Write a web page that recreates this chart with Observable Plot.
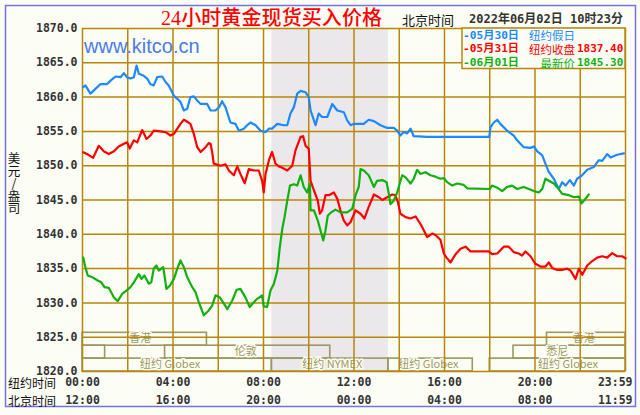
<!DOCTYPE html>
<html><head><meta charset="utf-8">
<script src="https://cdn.jsdelivr.net/npm/d3@7"></script>
<script src="https://cdn.jsdelivr.net/npm/@observablehq/plot@0.6"></script>
<style>
html,body{margin:0;padding:0;background:#fcfdf5;}
#chart{width:640px;height:415px;}
svg{display:block;}
</style></head><body><div id="chart"></div>
<script>
// ---------- data ----------
const yTicks = [1820,1825,1830,1835,1840,1845,1850,1855,1860,1865,1870];
const xGrid = [0,2,4,6,8,10,12,14,16,18,20,22,24];
const xTickHours = [0,4,8,12,16,20,24];
const nyLabels = ["00:00","04:00","08:00","12:00","16:00","20:00","23:59"];
const bjLabels = ["12:00","16:00","20:00","00:00","04:00","08:00","11:59"];

const sessionNames = ["香港","香港","悉尼","悉尼","伦敦","纽约 Globex","纽约 NYMEX","纽约 Globex","纽约 Globex"];
const sessionStart = [0,20.53,0,19.05,3.65,0,8.37,13.52,18.0];
const sessionEnd   = [5.5,24,1.0,24,10.95,8.37,13.52,17.25,24];
const sessionRow   = [1,1,2,2,2,3,3,3,3];
const sessionLabelAt = [2.55,22.15,null,20.98,7.21,3.87,11.04,15.29,21.46];

const seriesNames = ["05月30日","05月31日","06月01日"];
const seriesNotes = ["纽约假日","纽约收盘","最新价"];
const seriesValues = ["","1837.40","1845.30"];

const blueH = [0.03,0.13,0.35,0.57,0.8,1.09,1.24,1.46,1.68,1.83,1.97,2.12,2.27,2.39,2.49,2.71,2.86,3.0,3.15,3.3,3.52,3.67,3.81,4.04,4.19,4.33,4.48,4.63,4.77,4.92,5.07,5.22,5.51,5.66,5.88,6.03,6.17,6.32,6.54,6.76,6.91,7.13,7.28,7.43,7.65,7.87,8.09,8.24,8.38,8.61,8.9,9.05,9.19,9.34,9.49,9.64,9.86,10.0,10.08,10.23,10.3,10.44,10.59,10.82,11.04,11.26,11.55,11.7,11.85,12.0,12.29,12.43,12.65,12.88,13.17,13.47,13.76,13.91,14.05,14.2,14.35,14.5,14.64,15.23,17.98,18.03,18.18,18.33,18.47,18.77,19.06,19.21,19.5,19.8,19.95,20.1,20.32,20.46,20.61,20.83,21.05,21.2,21.35,21.54,21.72,21.86,22.08,22.31,22.6,22.82,22.97,23.19,23.34,23.63,23.93];
const blueP = [1861.45,1861.7,1860.5,1861.2,1861.9,1861.9,1862.4,1863.0,1862.9,1863.5,1862.9,1862.7,1862.9,1864.6,1863.4,1863.1,1862.7,1861.9,1861.7,1862.9,1863.0,1862.2,1861.7,1860.2,1859.75,1859.3,1858.05,1858.3,1860.0,1860.1,1859.5,1859.0,1859.0,1858.05,1858.05,1858.5,1859.4,1858.5,1856.3,1856.1,1855.1,1855.4,1855.9,1856.3,1855.9,1855.1,1854.9,1855.4,1855.4,1856.1,1855.9,1855.9,1857.6,1858.5,1860.5,1860.9,1860.7,1860.0,1858.05,1856.6,1855.9,1857.6,1857.1,1857.1,1859.0,1858.05,1857.8,1856.6,1855.9,1856.1,1856.1,1856.1,1856.7,1856.5,1855.9,1855.5,1855.5,1855.1,1854.4,1854.9,1854.7,1855.4,1854.3,1854.2,1854.2,1855.6,1856.3,1856.7,1856.1,1855.1,1854.4,1853.7,1852.7,1852.6,1852.8,1852.1,1851.5,1850.3,1849.1,1848.1,1846.6,1847.6,1847.1,1847.9,1847.1,1848.1,1848.6,1849.4,1849.8,1850.8,1850.7,1851.7,1851.2,1851.6,1851.8];

const redH = [0.03,0.2,0.47,0.72,0.94,1.16,1.39,1.6,1.83,1.97,2.09,2.27,2.42,2.64,2.83,3.0,3.15,3.45,3.67,3.89,4.04,4.19,4.33,4.48,4.63,4.77,4.92,5.07,5.22,5.44,5.58,5.66,5.73,5.8,6.1,6.32,6.47,6.69,6.84,6.98,7.17,7.35,7.57,7.79,7.94,8.01,8.09,8.24,8.38,8.53,8.68,8.83,9.05,9.27,9.41,9.64,9.75,9.86,10.0,10.08,10.23,10.4,10.49,10.59,10.74,10.89,11.11,11.26,11.4,11.55,11.7,11.85,12.07,12.29,12.46,12.65,12.88,13.1,13.25,13.47,13.69,13.83,13.94,14.05,14.28,14.5,14.72,14.94,15.09,15.23,15.46,15.6,15.82,15.97,16.09,16.27,16.49,16.71,16.93,17.15,17.96,18.1,18.33,18.62,18.84,19.06,19.28,19.43,19.58,19.8,20.02,20.24,20.46,20.61,20.76,20.98,21.2,21.42,21.57,21.79,21.94,22.09,22.31,22.53,22.75,22.97,23.19,23.41,23.63,23.85,24.0];
const redP = [1851.97,1851.7,1851.15,1852.9,1852.1,1851.7,1852.1,1852.8,1853.2,1853.4,1852.5,1853.7,1853.4,1855.2,1853.9,1854.4,1855.1,1855.0,1854.9,1854.4,1854.65,1855.4,1856.1,1856.7,1856.4,1856.1,1854.65,1852.7,1852.0,1852.7,1853.3,1853.2,1852.0,1850.3,1850.0,1850.2,1849.3,1848.6,1849.9,1848.8,1847.45,1849.5,1849.3,1849.3,1847.8,1846.1,1848.8,1850.8,1852.0,1850.3,1849.9,1849.7,1849.3,1850.0,1852.2,1854.2,1854.3,1852.9,1852.5,1847.8,1846.4,1844.9,1843.0,1843.5,1845.7,1845.7,1846.1,1845.2,1843.5,1842.0,1841.3,1841.8,1843.5,1843.0,1842.3,1844.0,1845.8,1845.4,1845.0,1845.4,1845.8,1845.7,1844.7,1843.0,1842.5,1842.3,1842.6,1841.5,1840.55,1839.6,1840.1,1839.9,1839.2,1837.2,1836.6,1835.9,1837.1,1837.9,1838.2,1837.5,1837.5,1837.1,1837.2,1838.2,1838.2,1837.4,1837.2,1836.9,1837.5,1836.8,1835.7,1835.3,1835.3,1835.9,1835.1,1834.8,1834.8,1835.0,1834.7,1833.5,1835.0,1834.1,1835.45,1836.1,1836.6,1836.8,1836.6,1837.25,1836.8,1836.8,1836.5];

const greenH = [0.03,0.13,0.23,0.43,0.65,0.83,0.97,1.16,1.39,1.56,1.75,1.94,2.12,2.27,2.49,2.61,2.74,2.93,3.04,3.15,3.27,3.37,3.57,3.71,3.86,4.04,4.19,4.33,4.48,4.63,4.85,4.99,5.14,5.36,5.58,5.73,5.88,6.07,6.25,6.4,6.62,6.81,6.98,7.2,7.39,7.57,7.72,7.94,8.01,8.16,8.31,8.46,8.61,8.72,8.83,8.93,9.05,9.17,9.34,9.49,9.64,9.78,9.93,10.05,10.08,10.23,10.4,10.52,10.64,10.74,10.84,10.99,11.18,11.4,11.7,11.92,12.07,12.21,12.29,12.43,12.65,12.88,13.02,13.25,13.44,13.54,13.61,13.76,13.91,14.02,14.13,14.28,14.5,14.64,14.79,14.94,15.16,15.38,15.6,15.82,15.97,16.12,16.34,16.56,16.85,17.0,18.0,18.1,18.33,18.55,18.77,18.99,19.21,19.5,19.73,19.95,20.17,20.32,20.46,20.61,20.83,21.05,21.2,21.5,21.72,21.94,22.05,22.19,22.38];
const greenP = [1836.6,1835.2,1834.0,1833.75,1833.3,1833.0,1832.3,1832.2,1830.8,1830.25,1831.3,1831.8,1832.3,1833.0,1834.2,1833.5,1834.0,1832.8,1833.0,1835.0,1835.45,1834.7,1835.2,1832.05,1832.5,1833.5,1835.0,1836.2,1835.2,1833.75,1832.3,1831.6,1830.1,1828.2,1828.9,1829.6,1831.1,1830.8,1829.9,1829.1,1830.35,1831.9,1832.05,1830.8,1829.4,1830.1,1830.6,1831.1,1829.5,1829.4,1831.8,1832.8,1834.7,1838.1,1840.8,1842.5,1844.9,1847.1,1847.3,1847.1,1848.6,1846.9,1846.1,1847.4,1843.5,1843.5,1842.0,1840.55,1839.1,1840.55,1842.7,1843.2,1843.6,1843.2,1843.2,1843.7,1845.7,1846.9,1849.5,1849.3,1848.6,1846.9,1847.8,1847.9,1847.6,1845.9,1844.4,1844.9,1846.1,1847.4,1848.6,1848.3,1847.4,1848.1,1849.4,1848.8,1849.05,1848.6,1848.4,1848.1,1848.2,1847.6,1847.1,1847.4,1847.2,1846.7,1846.6,1847.1,1846.8,1846.3,1846.9,1847.1,1846.6,1846.9,1846.6,1846.3,1846.1,1846.6,1848.1,1847.8,1847.4,1846.6,1845.9,1845.7,1845.4,1845.5,1844.5,1845.0,1845.8];

// ---------- styles ----------
const BG = "#fcfdf5";
const GOLD = "#b8860b";
const OLIVE = "#9c9860";
const COLORS = ["#1e88ff", "#ff0000", "#10b010"];
const NUM = "'DejaVu Sans Mono','Noto Sans CJK SC',monospace";
const CJK = "'Noto Sans CJK SC',sans-serif";
const rowH = 1.88;

const toPts = (H, P) => H.map((h, i) => ({h, p: P[i]}));
const sessions = sessionNames.map((name, i) => ({
  name, s: sessionStart[i], e: sessionEnd[i], row: sessionRow[i], lx: sessionLabelAt[i]
}));
const nymex = sessions.filter(d => d.name.includes("NYMEX"));
const yLo = d => 1820 + (3 - d.row) * rowH;
const xRows = xTickHours.map((h, i) => ({h, ny: nyLabels[i], bj: bjLabels[i]}));
const xMain = xRows.filter(d => d.h < 24), xLast = xRows.filter(d => d.h === 24);

const txt = {fontFamily: NUM, fontWeight: "bold", fontSize: 11.5, fill: "#333"};

const svg = Plot.plot({
  width: 640, height: 415,
  marginLeft: 82, marginRight: 15, marginTop: 28, marginBottom: 44,
  x: {domain: [0, 24], axis: null},
  y: {domain: [1820, 1870], axis: null},
  style: {background: BG},
  marks: [
    Plot.rect(nymex, {x1: "s", x2: "e", y1: () => 1820, y2: () => 1870, fill: "#ebe8ec"}),
    Plot.rect(sessions, {x1: "s", x2: "e", y1: yLo, y2: d => yLo(d) + rowH, fill: "none", stroke: OLIVE, strokeWidth: 1.6}),
    Plot.text(sessions.filter(d => d.lx != null), {x: "lx", y: d => yLo(d) + rowH / 2, text: "name",
      fill: OLIVE, stroke: BG, strokeWidth: 3, paintOrder: "stroke", fontFamily: CJK, fontSize: 11, dy: -1}),
    Plot.ruleY(yTicks, {stroke: GOLD, strokeWidth: 1.5}),
    Plot.ruleX(xGrid, {stroke: GOLD, strokeWidth: 1.5}),
    Plot.line(toPts(blueH, blueP), {x: "h", y: "p", stroke: COLORS[0], strokeWidth: 2.2}),
    Plot.line(toPts(redH, redP), {x: "h", y: "p", stroke: COLORS[1], strokeWidth: 2.2}),
    Plot.line(toPts(greenH, greenP), {x: "h", y: "p", stroke: COLORS[2], strokeWidth: 2.2}),
    Plot.text(yTicks, {x: () => 0, y: d => d, text: d => d.toFixed(1), textAnchor: "end", dx: -5, ...txt}),
    Plot.text(xMain, {x: "h", y: () => 1820, text: "ny", dy: 11, ...txt}),
    Plot.text(xMain, {x: "h", y: () => 1820, text: "bj", dy: 29, ...txt}),
    Plot.text(xLast, {x: "h", y: () => 1820, text: "ny", dy: 11, dx: 7, textAnchor: "end", ...txt}),
    Plot.text(xLast, {x: "h", y: () => 1820, text: "bj", dy: 29, dx: 7, textAnchor: "end", ...txt})
  ]
});
document.getElementById("chart").append(svg);

// ---------- overlays ----------
const s = d3.select(svg);
const T = (x, y, str, opts = {}) => s.append("text").attr("x", x).attr("y", y)
  .attr("text-anchor", opts.anchor || "start").attr("dominant-baseline", "central")
  .attr("font-family", opts.family || CJK).attr("font-size", opts.size || 12)
  .attr("font-weight", opts.weight || "normal").attr("fill", opts.fill || "#111").text(str);

s.append("rect").attr("x", 5.5).attr("y", 5.5).attr("width", 630).attr("height", 401)
  .attr("fill", "none").attr("stroke", "#7373e6").attr("stroke-width", 1.5);

T(161, 18, "24小时黄金现货买入价格", {family: "'Liberation Serif','Noto Sans CJK SC',serif", size: 20, fill: "#ff0000", weight: 500})
  .attr("textLength", 221).attr("lengthAdjust", "spacing");
T(402, 19, "北京时间", {size: 13});
T(469, 19, "2022年06月02日 10时23分", {family: NUM, weight: "bold", size: 12, fill: "#333"});

s.append("text").attr("x", 84).attr("y", 52.5).attr("text-anchor", "start")
  .attr("font-family", "'Liberation Sans',Arial,sans-serif").attr("font-size", 20)
  .attr("fill", "#4a7be6").text("www.kitco.cn");

// legend
s.append("rect").attr("x", 462).attr("y", 28).attr("width", 163).attr("height", 40.5)
  .attr("fill", BG).attr("stroke", GOLD).attr("stroke-width", 1.5);
seriesNames.forEach((n, i) => {
  const y = 35.3 + i * 13.6;
  T(463, y, "-" + n, {family: NUM, weight: "bold", size: 11.2, fill: COLORS[i]});
  T(575, y, seriesNotes[i], {anchor: "end", size: 11.5, fill: COLORS[i]});
  if (seriesValues[i]) T(577, y, seriesValues[i], {family: NUM, weight: "bold", size: 11, fill: COLORS[i]});
});

// y title (vertical, upright characters, single text)
s.append("text").attr("x", 14).attr("y", 152).attr("text-anchor", "start")
  .attr("font-family", CJK).attr("font-size", 12.5).attr("fill", "#111")
  .style("writing-mode", "vertical-rl").style("text-orientation", "upright")
  .text("美元/盎司");
// x row titles
[["纽约时间", 382], ["北京时间", 400]].forEach(([t, y]) => T(8, y, t, {size: 12}));
</script></body></html>
